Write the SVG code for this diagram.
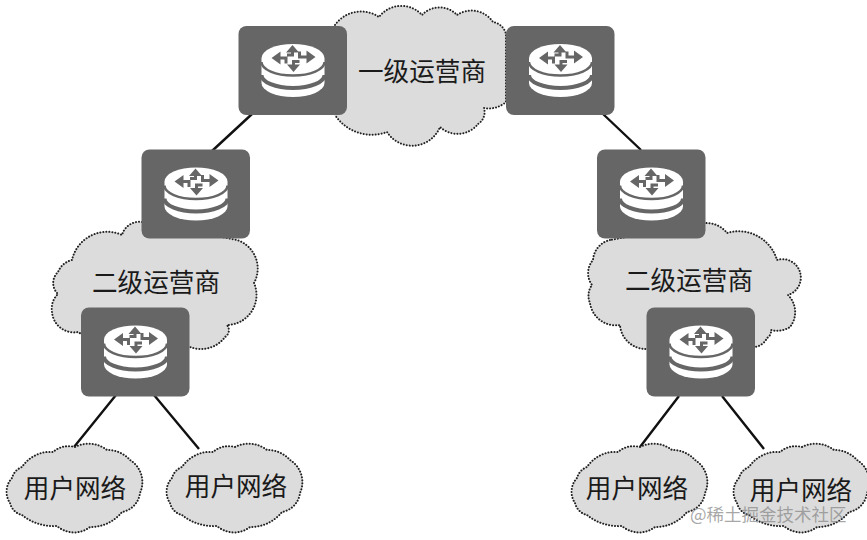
<svg xmlns="http://www.w3.org/2000/svg" width="867" height="540" viewBox="0 0 867 540">
<style>
.cloud{fill:#dcdcdc;stroke:#222;stroke-width:2;stroke-dasharray:.1 2.9;stroke-linecap:round}
.link{stroke:#111;stroke-width:2.4;fill:none}
.lbl{font-family:"Noto Sans CJK SC","Noto Sans CJK JP",sans-serif;font-size:25.6px;fill:#1a1a1a;text-anchor:middle;font-weight:400}
.mark{font-family:"Noto Sans CJK SC",sans-serif;font-size:17.5px;fill:#8a8a8a;fill-opacity:.75}
.band{fill:none;stroke:#666}
.arr{fill:none;stroke:#666;stroke-width:3}
</style>
<defs>
<path id="small" class="cloud" d="M75 447A24 24 0 0 0 53 452A34 34 0 0 0 22 467A16 16 0 0 0 12 478A20 20 0 0 0 10 503A16 16 0 0 0 22 515A50 50 0 0 0 57 526A26 26 0 0 0 90 527A40 40 0 0 0 122 512A22 22 0 0 0 140 493A26 26 0 0 0 130 460A30 30 0 0 0 107 450A30 30 0 0 0 75 447Z"/>
<g id="router">
<rect width="108.500" height="89" rx="8" fill="#666"/>
<path d="M23 32A31.500 14 0 0 1 86 32V57A31.500 14 0 0 1 23 57Z" fill="#fff"/>
<path class="band" stroke-width="2.500" d="M23 36A31.500 13.500 0 0 0 86 36"/>
<path class="band" stroke-width="4" d="M23 49A31.500 13 0 0 0 86 49"/>
<path d="M33 32L42 25.500V38.500ZM77 31L68 24.500V37.500ZM54 19L47.500 26.500H60.500ZM55 46L48.500 38.500H61.500Z" fill="#666"/>
<path class="arr" d="M41 32H47.500V37.500M69 31H61V25.500M54 25V29H48.500M55 39V35.500H61"/>
</g>
</defs>
<rect width="867" height="540" fill="#fff"/>
<g id="connectors">
<path class="link" d="M252 114L212 151M603 114L641 150M116 395L74 447M154 395L199 449M679 396L640 447M722 396L764 449"/>
</g>
<g id="cloud-tier1">
<path class="cloud" d="M335 25A32 32 0 0 1 379 17A28 28 0 0 1 422 15A24 24 0 0 1 457 15A26 26 0 0 1 493 22A16 16 0 0 1 506 34L506 102A26 26 0 0 1 484 108A14 14 0 0 1 478 124A26 26 0 0 1 440 127A30 30 0 0 1 387 132A44 44 0 0 1 335 115Z"/>
<text class="lbl" x="422" y="81">一级运营商</text>
</g>
<g id="cloud-tier2-left">
<path class="cloud" d="M142 222A18 18 0 0 0 122 235A36 36 0 0 0 72 260A20 20 0 0 0 58 272A15 15 0 0 0 58 294A20 20 0 0 0 52 312A22 22 0 0 0 78 332L100 345L190 347A30 30 0 0 0 225 337A8 8 0 0 0 227 325A30 30 0 0 0 254 283A30 30 0 0 0 237 240Z"/>
<text class="lbl" x="156" y="292">二级运营商</text>
</g>
<g id="cloud-tier2-right">
<path class="cloud" d="M610 240A22 22 0 0 0 593 260A20 20 0 0 0 592 285A18 18 0 0 0 590 303A26 26 0 0 0 620 325A26 26 0 0 0 645 349L755 347A16 16 0 0 0 767 338A8 8 0 0 0 771 330A24 24 0 0 0 790 327A24 24 0 0 0 788 295A18 18 0 0 0 777 260A40 40 0 0 0 727 233A26 26 0 0 0 707 223Z"/>
<text class="lbl" x="689" y="290">二级运营商</text>
</g>
<g id="router-1"><use href="#router" x="238.500" y="26"/></g>
<g id="router-2"><use href="#router" x="506" y="26"/></g>
<g id="router-3"><use href="#router" x="141.500" y="149.500"/></g>
<g id="router-4"><use href="#router" x="597" y="149.500"/></g>
<g id="router-5"><use href="#router" x="81" y="307.500"/></g>
<g id="router-6"><use href="#router" x="646.500" y="307.500"/></g>
<g id="user-1"><use href="#small"/><text class="lbl" x="75" y="498">用户网络</text></g>
<g id="user-2"><use href="#small" x="160"/><text class="lbl" x="236" y="496">用户网络</text></g>
<g id="user-3"><use href="#small" x="565"/><text class="lbl" x="637" y="498">用户网络</text></g>
<g id="user-4"><use href="#small" x="727"/><text class="lbl" x="801" y="500">用户网络</text></g>
<text class="mark" x="690" y="521">@稀土掘金技术社区</text>
</svg>
